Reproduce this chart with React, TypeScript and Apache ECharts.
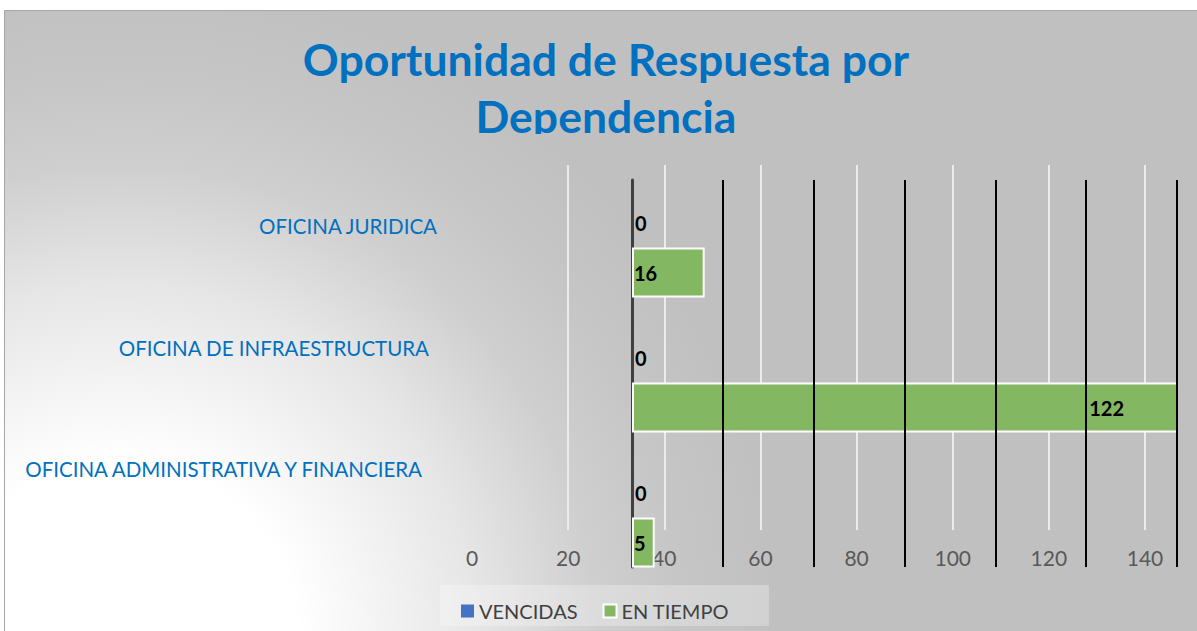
import React, { useEffect, useRef } from "react";
import * as echarts from "echarts";

const categories = [
  "OFICINA ADMINISTRATIVA Y FINANCIERA",
  "OFICINA DE INFRAESTRUCTURA",
  "OFICINA JURIDICA",
];
const vencidas = [0, 0, 0];
const enTiempo = [5, 122, 16];
const labelAxisTicks = [0, 20, 40, 60, 80, 100, 120, 140];
const seriesNames = ["VENCIDAS", "EN TIEMPO"];
const titleLines = ["Oportunidad de Respuesta por", "Dependencia"];

const FONT = "Lato";

export default function App() {
  const ref = useRef<HTMLDivElement>(null);
  useEffect(() => {
    document.body.style.margin = "0";
    if (!ref.current) return;
    const chart = echarts.init(ref.current, undefined, { renderer: "svg" });
    const bgGrad = () => ({
      type: "radial",
      x: 120,
      y: 640,
      r: 660,
      global: true,
      colorStops: [
        { offset: 0, color: "#ffffff" },
        { offset: 0.27, color: "#ffffff" },
        { offset: 0.54, color: "#e6e6e6" },
        { offset: 0.72, color: "#cfcfcf" },
        { offset: 0.85, color: "#c6c6c6" },
        { offset: 1, color: "#c0c0c0" },
      ],
    });
    const padRight = [15, 8, 0];
    const catLabel = (p: number) => ({
      color: "#0070C0",
      fontSize: 20.5,
      fontFamily: FONT,
      padding: [0, p, 0, 0],
    });
    const option: any = {
      animation: false,
      backgroundColor: "#ffffff",
      title: {
        text: titleLines.join("\n"),
        left: 601,
        top: 25,
        textAlign: "center",
        textStyle: {
          color: "#0070C0",
          fontSize: 44.5,
          fontWeight: "bold",
          fontFamily: FONT,
          lineHeight: 57,
        },
        z: 6,
      },
      graphic: [
        {
          type: "rect",
          z: -100,
          shape: { x: 4.5, y: 10.5, width: 1200, height: 630 },
          style: { fill: bgGrad(), stroke: "#a6a6a6", lineWidth: 1 },
          silent: true,
        },
        {
          type: "rect",
          z: -50,
          shape: { x: 440, y: 585, width: 329, height: 41 },
          style: { fill: "rgba(255,255,255,0.28)" },
          silent: true,
        },
        {
          type: "rect",
          z: 100,
          shape: { x: 440, y: 134, width: 320, height: 24 },
          style: { fill: bgGrad() },
          silent: true,
        },
      ],
      legend: {
        data: seriesNames,
        left: 456,
        top: 596,
        icon: "rect",
        itemWidth: 13,
        itemHeight: 13,
        itemGap: 25,
        textStyle: { color: "#404040", fontSize: 20, fontFamily: FONT },
      },
      grid: [
        { left: 472, right: 52, top: 165, bottom: 101 },
        { left: 632, width: 545, top: 180, bottom: 64 },
        { left: 632, width: 545, top: 180, height: 405 },
      ],
      xAxis: [
        {
          gridIndex: 0,
          type: "value",
          min: labelAxisTicks[0],
          max: labelAxisTicks[labelAxisTicks.length - 1],
          interval: 20,
          axisLine: { show: false },
          axisTick: { show: false },
          axisLabel: {
            color: "#595959",
            fontSize: 21,
            fontFamily: FONT,
            margin: 17,
          },
          splitLine: {
            showMinLine: false,
            lineStyle: { color: "#ebebeb", width: 2 },
          },
        },
        {
          gridIndex: 1,
          type: "value",
          min: 0,
          max: 120,
          interval: 20,
          z: 3,
          axisLine: { show: false },
          axisTick: { show: false },
          axisLabel: { show: false },
          splitLine: {
            showMinLine: false,
            lineStyle: { color: "#000000", width: 2 },
          },
        },
        {
          gridIndex: 2,
          type: "value",
          min: 0,
          max: 120,
          show: false,
          splitLine: { show: false },
        },
      ],
      yAxis: [
        {
          gridIndex: 0,
          type: "category",
          data: categories,
          axisLine: { show: false },
          axisTick: { show: false },
          splitLine: { show: false },
          axisLabel: {
            margin: 35,
            formatter: (v: string, i: number) => `{r${i}|${v}}`,
            rich: {
              r0: catLabel(padRight[0]),
              r1: catLabel(padRight[1]),
              r2: catLabel(padRight[2]),
            },
          },
        },
        {
          gridIndex: 1,
          type: "category",
          data: categories,
          z: 1,
          axisLine: { show: true, lineStyle: { color: "#404040", width: 3 } },
          axisTick: { show: false },
          axisLabel: { show: false },
          splitLine: { show: false },
        },
        {
          gridIndex: 2,
          type: "category",
          data: categories,
          show: false,
        },
      ],
      series: [
        {
          name: seriesNames[0],
          type: "bar",
          xAxisIndex: 2,
          yAxisIndex: 2,
          data: vencidas,
          barWidth: 50,
          barGap: "0%",
          itemStyle: { color: "#4472C4", borderWidth: 0 },
          label: {
            show: true,
            position: "insideLeft",
            distance: 3,
            color: "#000000",
            fontWeight: "bold",
            fontSize: 20,
            fontFamily: FONT,
          },
        },
        {
          name: seriesNames[1],
          type: "bar",
          xAxisIndex: 2,
          yAxisIndex: 2,
          data: enTiempo.map((v) =>
            v > 120 ? { value: v, label: { position: "insideRight", distance: 54 } } : v
          ),
          barWidth: 50,
          barGap: "0%",
          itemStyle: { color: "#84B761", borderColor: "#ffffff", borderWidth: 2 },
          label: {
            show: true,
            position: "insideLeft",
            distance: 2,
            color: "#000000",
            fontWeight: "bold",
            fontSize: 20,
            fontFamily: FONT,
          },
        },
      ],
    };
    chart.setOption(option);
    return () => chart.dispose();
  }, []);
  return <div ref={ref} style={{ width: 1197, height: 631 }} />;
}
